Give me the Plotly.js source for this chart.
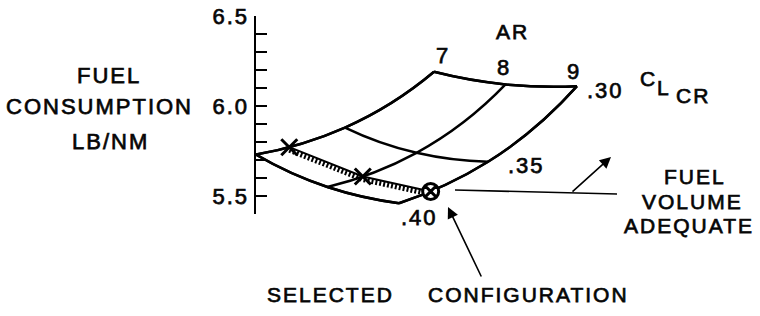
<!DOCTYPE html>
<html><head><meta charset="utf-8">
<script src="https://cdn.plot.ly/plotly-3.0.1.min.js"></script>
<style>
html,body{margin:0;padding:0;background:#fff;}
#chart .annotation-text, #chart .ytick text {letter-spacing:2px; stroke:#111; stroke-width:0.75px;}
</style></head><body>
<div id="chart" style="width:760px;height:316px;"></div>
<script>
// ---- data ----
const AR = [7, 8, 9];
const AR_LABELS = ['7', '8', '9'];
const CL = [0.30, 0.35, 0.40];
const CL_LABELS = ['.30', '.35', '.40'];
// fuel consumption, LB/NM : rows = CL (.30,.35,.40), columns = AR (7,8,9)
const FUEL = [
  [6.19, 6.12, 6.11],
  [5.88, 5.74, 5.69],
  [5.73, 5.55, 5.46]
];
// fuel-volume-adequate boundary (CL value on each AR line)
const BOUND_AR = [7, 8, 9];
const BOUND_CL = [0.382, 0.381, 0.383];
const BOUND_SYMBOLS = ['x-thin', 'x-thin', 'circle-x'];
const Y_TICKS = [5.5, 6.0, 6.5];
const Y_TICK_LABELS = ['5.5', '6.0', '6.5'];

// ---- style ----
const INK = '#000';
const FONT = 'Liberation Sans, Arial, sans-serif';
const L = 256, R = 20, T = 16, B = 102, W = 760, H = 316;
const PW = W - L - R, PH = H - T - B;
function px(x) { return (x - L) / PW; }
function py(y) { return (H - B - y) / PH; }
function txt(t, x, y, size, extra) {
  return Object.assign({text: t, xref: 'paper', yref: 'paper', x: px(x), y: py(y),
    xanchor: 'center', yanchor: 'middle', showarrow: false,
    font: {family: FONT, size: size, color: INK}}, extra || {});
}
const LW = 2.5;
const gridAxis = (vals) => ({
  tickmode: 'array', tickvals: vals, showticklabels: 'none',
  showgrid: true, gridcolor: INK, gridwidth: LW,
  startline: true, endline: true,
  startlinecolor: INK, endlinecolor: INK, startlinewidth: LW, endlinewidth: LW,
  linecolor: INK, linewidth: LW,
  minorgridcount: 0, smoothing: 1, title: {text: ''}
});
const hiddenAxis = (vals) => ({
  tickmode: 'array', tickvals: vals, showticklabels: 'none',
  showgrid: false, startline: false, endline: false,
  minorgridcount: 0, smoothing: 1, title: {text: ''}
});
const SLOPE = 1.245;
const Y_SHIFT = 3 / 180;

const traces = [
  {type: 'carpet', carpet: 'c1', a: AR, b: CL, y: FUEL, cheaterslope: SLOPE,
   aaxis: gridAxis(AR), baxis: gridAxis(CL), xaxis: 'x', yaxis: 'y'},
  {type: 'carpet', carpet: 'c2', a: AR, b: CL, y: FUEL, cheaterslope: SLOPE,
   aaxis: hiddenAxis(AR), baxis: hiddenAxis(CL), xaxis: 'x', yaxis: 'y2'},
  {type: 'carpet', carpet: 'c3', a: AR, b: CL, y: FUEL, cheaterslope: SLOPE,
   aaxis: hiddenAxis(AR), baxis: hiddenAxis(CL), xaxis: 'x', yaxis: 'y3'},
  {type: 'scattercarpet', carpet: 'c2', a: BOUND_AR, b: BOUND_CL, mode: 'lines',
   xaxis: 'x', yaxis: 'y2',
   line: {color: INK, width: 5, dash: '2px,2px'}, hoverinfo: 'skip'},
  {type: 'scattercarpet', carpet: 'c3', a: BOUND_AR, b: BOUND_CL, mode: 'lines+markers',
   xaxis: 'x', yaxis: 'y3', hoverinfo: 'skip',
   line: {color: INK, width: 2},
   marker: {symbol: BOUND_SYMBOLS, size: [16, 16, 16], color: [INK, INK, '#fff'], opacity: 1,
     line: {color: INK, width: 3}}}
];

const annotations = [
  txt('FUEL', 109, 75, 22), txt('CONSUMPTION', 99, 107, 22), txt('LB/NM', 110, 141, 22),
  txt('AR', 512, 31, 21),
  txt(AR_LABELS[0], 443, 56, 22), txt(AR_LABELS[1], 504, 67, 22), txt(AR_LABELS[2], 574, 71, 22),
  txt(CL_LABELS[0], 605, 90, 22), txt(CL_LABELS[1], 526, 165, 22), txt(CL_LABELS[2], 419, 218, 22),
  txt('C', 648, 78, 21), txt('L', 664, 87, 21), txt('CR', 693, 95, 21),
  txt('FUEL', 695, 176, 21), txt('VOLUME', 692, 201, 21), txt('ADEQUATE', 689, 225, 21),
  txt('SELECTED', 330, 294, 21), txt('CONFIGURATION', 528, 294, 21),
  {text: '', xref: 'paper', yref: 'paper', x: px(611), y: py(157), ax: -40, ay: 36,
   showarrow: true, arrowhead: 2, arrowsize: 1.4, arrowwidth: 1.6, arrowcolor: INK},
  {text: '', xref: 'paper', yref: 'paper', x: px(448), y: py(207), ax: 34, ay: 71,
   showarrow: true, arrowhead: 2, arrowsize: 1.4, arrowwidth: 1.6, arrowcolor: INK}
];

const layout = {
  width: W, height: H, margin: {l: L, r: R, t: T, b: B},
  paper_bgcolor: '#fff', plot_bgcolor: '#fff', showlegend: false,
  xaxis: {visible: false, range: [0, PW / 321], fixedrange: true},
  yaxis: {range: [5.4, 6.5], tickmode: 'array', tickvals: Y_TICKS, ticktext: Y_TICK_LABELS,
    ticks: 'inside', ticklen: 11, tickwidth: 2.2, tickcolor: INK,
    showline: true, linewidth: 2.5, linecolor: INK, showgrid: false, zeroline: false,
    tickfont: {family: FONT, size: 22, color: INK},
    minor: {tickmode: 'linear', tick0: 5.4, dtick: 0.1, ticks: 'inside', ticklen: 11,
      tickwidth: 2.2, tickcolor: INK, showgrid: false}},
  yaxis2: {overlaying: 'y', range: [5.4 + Y_SHIFT, 6.5 + Y_SHIFT], visible: false},
  yaxis3: {overlaying: 'y', range: [5.4, 6.5], visible: false},
  shapes: [{type: 'line', xref: 'paper', yref: 'paper', x0: px(455), y0: py(190), x1: px(617), y1: py(194),
    line: {color: INK, width: 1.6}}],
  annotations: annotations
};
Plotly.newPlot('chart', traces, layout, {staticPlot: true});
</script>
</body></html>
